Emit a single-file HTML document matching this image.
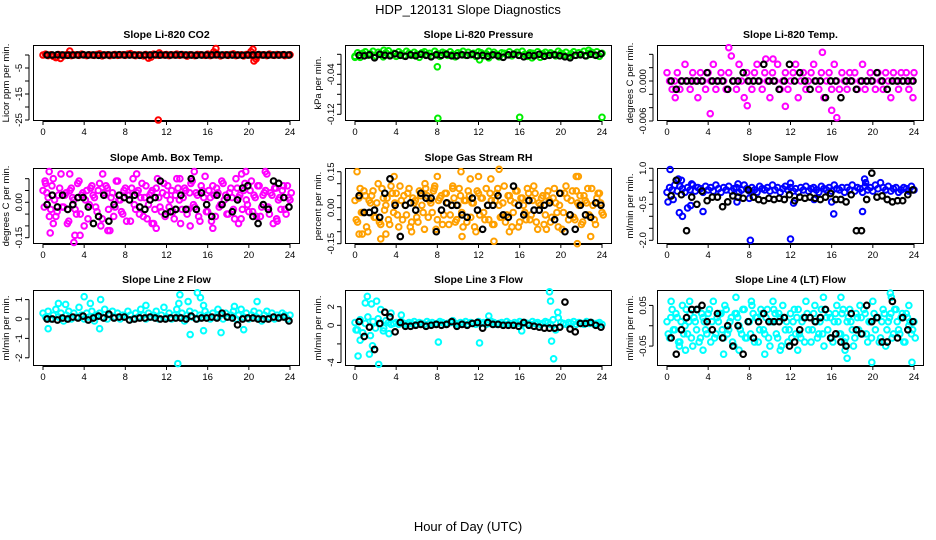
<!DOCTYPE html>
<html><head><meta charset="utf-8"><style>
html,body{margin:0;padding:0;background:#fff;}
svg{display:block;font-family:"Liberation Sans",sans-serif;}
</style></head><body>
<svg id="chart" width="936" height="540" viewBox="0 0 936 540" xmlns="http://www.w3.org/2000/svg">
<rect x="0" y="0" width="936" height="540" fill="#fff"/>
<text x="468" y="14" font-size="13" text-anchor="middle">HDP_120131  Slope Diagnostics</text>
<text x="468" y="531" font-size="13" text-anchor="middle">Hour of Day (UTC)</text>
</svg>
<script>
const xTicks = [0,4,8,12,16,20,24];

const co2Colored = [0,.3,-.2,.1,-.5,-1,.2,0,-.3,.1,.2,-.2,0,.1,-.1,.3,0,-.2,.1,0,-.1,.2,.4,-.3,0,.1,-.2,0,.2,-.1,0,.1,-.1,.3,.5,0,-.2,.1,0,-.3,.2,-1.2,-.8,.3,0,-.1,.1,0,.2,-.2,.1,0,.3,-.1,.2,0,-.4,.1,0,-.2,.2,.1,0,-.1,.3,-.2,.1,0,.2,-.3,0,.1,-.1,.2,.4,-.2,0,.1,-.3,.2,0,-.1,.1,-.6,.2,0,.1,-.2,.3,0,-.1,.2,0,.1,-.2,0,.1];
const co2Outliers = [[2.6,1.5],[1.7,-1.3],[1.3,-0.9],[11.2,-25],[16.6,1.2],[16.8,2.5],[20.2,1.3],[20.4,2.2],[20.5,-2.3],[20.7,-1.5],[11.3,0.8]];
const co2Black = [0,0,.1,0,-.1,0,0,.1,0,0,-.1,0,0,0,.1,0,0,0,-.1,0,0,.1,0,0,0,0,.1,0,0,-.1,0,0,0,.1,0,0,0,0,-.1,0,0,.1,0,0,0,0,.1,0];

const presColored = [-.004,.003,-.006,.002,.005,-.002,.001,.006,-.003,.004,.000,-.005,.003,.007,-.001,.002,-.004,.005,.001,-.003,.006,.002,-.002,.004,.000,-.006,.003,.005,-.001,.002,-.003,.006,.001,-.004,.004,.002,-.002,.005,.000,-.005,.003,.001,.006,-.002,.004,-.001,.002,-.004,.005,.003,-.003,.001,.006,-.002,.004,.000,-.005,.003,.002,-.001,.005,-.003,.001,.004,-.002,.006,.000,-.004,.003,.002,-.001,.005,-.006,.001,.004,-.002,.003,.000,-.003,.006,.002,-.001,.004,-.004,.001,.005,-.002,.003,.000,.006,-.003,.002,.004,-.001,.005,-.004,.002];
const presOutliers = [[8.0,-0.025],[8.05,-0.128],[16.0,-0.126],[24,-0.126],[12.1,-0.011],[2.8,0.008],[0,-0.006],[22.7,0.008],[13,-0.007],[17.2,-0.007]];
const presBlack = [-.002,-.003,-.001,-.007,.000,-.002,-.003,.001,-.002,-.004,-.001,-.003,.000,-.002,-.005,-.001,-.002,.000,-.003,-.003,-.001,-.002,.000,-.003,-.002,-.004,-.001,-.003,-.006,-.001,.000,-.002,-.005,-.002,-.003,.000,-.004,-.002,-.001,-.003,-.005,-.007,-.002,-.001,-.003,.000,-.002,.001];

const tempColored = [.00125,0,-.00125,0,.00125,-.00125,0,.0025,0,-.00125,.00125,0,-.0025,.00125,0,-.00125,.00125,0,.0025,-.00125,0,.00125,0,-.00125,.00125,.00375,0,-.00125,.0025,0,-.0025,.00125,0,-.00125,.00125,.0025,0,-.00125,.00125,0,-.0025,.00125,0,.0025,-.00125,0,.00125,-.00125,0,.00125,.0025,-.0025,0,.00125,-.00125,0,.00125,.0025,0,-.00125,.00125,-.0025,0,.00125,-.00125,.0025,0,-.00125,.00125,0,-.00125,.00125,0,.00125,-.00125,0,.0025,-.00125,0,.00125,0,-.00125,.00125,0,-.00125,.00125,0,-.0025,.00125,0,-.00125,.00125,0,.00125,-.00125,0,.00125];
const tempOutliers = [[6,0.005],[15.1,0.0043],[4.2,-0.0049],[16.5,-0.0055],[16,-0.0044],[7.8,-0.0037],[11.5,-0.0038],[0.8,-0.0025],[23.9,-0.0025],[9.6,0.0033],[10.3,0.0033]];
const tempBlack = [0,-.00125,0,0,0,0,0,.00125,0,0,0,-.00125,0,0,.00125,0,0,0,.0025,0,0,-.00125,0,.0025,0,.00125,0,-.00125,0,0,-.0025,0,0,-.0025,0,0,-.00125,0,0,0,.00125,0,-.00125,0,0,0,0,0];

const ambColored = [.05,.08,.02,-.03,.1,-.06,.03,.12,-.02,.04,-.08,.06,.01,-.05,.09,.03,-.1,.05,-.01,.07,.02,-.04,.08,-.07,.03,.06,-.12,.04,-.02,.09,.01,-.05,.06,.03,-.08,.1,-.03,.05,.02,-.06,.07,-.01,.04,-.09,.06,.02,-.04,.08,.03,-.02,.05,-.07,.1,.01,-.03,.06,-.05,.04,.09,-.02,.03,-.08,.05,.11,-.04,.02,.07,-.06,.04,-.01,.08,.03,-.05,.06,-.03,.1,.02,-.07,.05,.01,-.04,.09,.03,-.06,.07,-.02,.04,.12,-.05,.03,.06,-.08,.02,.05,-.03,.07,.01];
const ambColored2 = [-.02,.04,-.06,.07,.01,-.04,.06,-.02,.03,-.09,.05,.02,-.03,.08,-.05,.04,.01,-.07,.06,.03,-.02,.05,-.1,.04,.07,-.03,.02,-.06,.09,.01,-.04,.05,-.08,.03,.06,-.01,.04,-.05,.08,.02,-.07,.03,.05,-.03,.1,-.02,.04,-.06,.07,.01,-.04,.03,.06,-.09,.02,.05,-.03,.08,-.01,.04,-.06,.07,.02,-.04,.05,-.08,.03,.06,-.02,.09,.01,-.05,.04,.02,-.07,.06,.03,-.03,.08,-.01,.05,-.04,.02,.07,-.06,.03,.05,-.02,.04,-.09,.06,.01,-.03,.07,-.05,.02,.04];
const ambOutliers = [[0.6,0.13],[0.2,0.09],[0.7,-0.13],[1.0,-0.09],[2.6,0.12],[3.0,-0.17],[3.1,-0.14],[3.6,-0.14],[5.8,0.12],[6.3,-0.12],[9.1,0.12],[10.6,-0.09],[11.0,-0.11],[13.3,0.1],[14.7,0.13],[14.3,-0.1],[16.5,-0.11],[19.0,-0.09],[19.3,0.12],[19.7,0.13],[21.6,0.13],[22.7,-0.07]];
const ambBlack = [-.01,.03,-.02,.03,-.03,-.01,.02,.02,-.02,-.09,-.06,.03,-.08,-.01,.03,.02,.01,.03,-.02,-.03,.01,.02,.09,-.05,-.04,-.03,.03,-.03,.1,-.03,.04,-.01,-.06,.03,-.01,.02,-.04,.01,.06,.07,-.06,-.09,-.01,-.03,.09,.08,.02,-.02];

const rhColored = [.03,-.06,.08,-.02,.05,-.1,.02,.07,-.04,.1,-.07,.04,.01,-.05,.09,-.02,.06,-.08,.03,.05,-.03,.08,-.06,.02,-.04,.07,.01,-.09,.05,.03,-.02,.09,-.05,.04,-.07,.06,.02,-.03,.08,-.06,.01,.05,-.08,.03,.07,-.04,.02,-.1,.06,.04,-.02,.08,-.05,.03,-.07,.06,.01,-.04,.09,-.03,.05,-.08,.02,.07,-.06,.04,-.02,.08,-.05,.03,.06,-.09,.01,.05,-.03,.07,-.06,.04,.02,-.08,.06,-.02,.09,-.05,.03,-.04,.07,.01,-.07,.05,.02,-.03,.08,-.05,.04,.06,-.02];
const rhColored2 = [-.05,.04,-.02,.07,-.08,.03,.05,-.04,.02,-.06,.08,-.01,.04,-.07,.06,.02,-.03,.09,-.05,.01,.06,-.08,.04,.03,-.06,.05,-.02,.08,-.04,.02,.07,-.09,.03,.05,-.03,.06,-.07,.01,.04,-.05,.08,-.02,.03,-.06,.05,.02,-.08,.07,-.03,.04,-.05,.01,.06,-.07,.03,.08,-.04,.02,-.06,.05,.03,-.02,.07,-.08,.04,.01,-.05,.06,-.03,.09,-.06,.02,.04,-.07,.05,.03,-.04,.08,-.02,.01,-.09,.06,.04,-.03,.07,-.05,.02,.05,-.06,.03,.08,-.04,.01,-.07,.06,.02,-.03];
const rhOutliers = [[0.2,0.15],[0.4,-0.11],[0.7,-0.11],[2.5,-0.13],[3.0,-0.11],[3.8,0.13],[5.5,-0.1],[7.7,0.08],[8.0,0.13],[10.3,0.15],[10.4,-0.12],[11.2,0.12],[12.0,0.13],[13.2,0.12],[13.5,-0.14],[14.0,0.16],[15.0,-0.1],[18.6,-0.09],[21.5,0.13],[21.7,0.13],[21.6,-0.15],[22.9,-0.12],[9.5,0.09],[6.8,0.1]];
const rhBlack = [.05,-.02,-.02,-.01,-.04,.06,.12,.01,-.12,.01,.02,-.01,.06,.04,.04,-.1,-.01,.02,.01,.01,-.03,-.04,.04,-.01,-.09,.01,.01,.05,-.03,-.04,.09,.01,-.03,.03,-.01,-.01,.01,.02,-.05,.06,-.1,-.03,-.09,.01,-.03,-.04,.02,.01];

const flowColored = [.0,.2,.1,.3,.05,.25,.15,0,.2,.1,.3,.05,.2,.15,0,.25,.1,.2,.05,.3,.15,0,.2,.1,.25,.05,.15,.2,0,.1,.3,.15,.05,.2,.1,0,.25,.15,.1,.2,.05,.3,.1,.2,0,.15,.25,.1,.2,.05,.15,0,.2,.1,.25,.05,.15,.2,.1,0,.25,.15,.1,.2,.05,.3,.15,.1,.2,0,.2,.1,.3,.05,.2,.15,0,.25,.1,.2,.05,.3,.15,.4,.2,.1,.25,.05,.15,.2,0,.1,.2,.15,.05,.25,.1];
const flowOutliers = [[0.3,0.95],[0.1,-0.4],[0.6,-0.3],[1.1,0.55],[1.4,0.5],[8.1,-2.0],[12,-1.95],[2.0,-0.65],[2.3,-0.55],[1.2,-0.85],[1.5,-1.0],[16.2,-0.9],[19.2,0.55],[19.0,-0.8],[19.3,0.4],[3.5,-0.8],[6.9,0.35],[2.4,0.35],[12,0.38],[6.8,-0.4],[12.3,-0.45],[16,-0.4],[8,-0.25],[14.3,-0.3]];
const flowBlack = [-.15,.5,-.1,-1.6,-.2,-.5,.05,-.35,-.2,-.2,-.6,-.4,-.15,-.2,-.25,.1,-.2,-.3,-.35,-.25,-.3,-.25,-.3,-.1,-.35,-.2,-.25,-.2,-.25,-.3,-.2,-.05,-.3,-.3,-.4,-.1,-1.6,-1.6,-.3,.8,-.2,-.15,-.3,-.4,-.35,-.35,-.1,.1];

const l2Colored = [.3,.1,.4,0,.2,.5,.1,.3,-.1,.2,.4,0,.3,.1,.6,.2,0,.3,.1,.4,-.1,.2,.3,.1,.5,0,.2,.4,.1,.3,0,.2,.1,.4,.2,0,.3,.1,.5,.2,0,.3,.1,.2,.4,0,.2,.6,.1,.3,0,.2,.5,.1,.3,-.1,.2,.4,.1,.3,0,.2,.1,.4,.2,0,.3,.1,.5,.2,0,.3,.1,.2,.4,0,.2,.5,.1,.3,0,.2,.4,.1,.3,-.1,.2,.4,.1,.3,0,.2,.1,.3,.2,0,.2];
const l2Outliers = [[4,1.15],[13.3,1.25],[15,1.35],[15.3,1.1],[13.1,-2.3],[14.3,-0.8],[15.6,-0.6],[17.3,-0.7],[19.5,-0.55],[5.5,-0.5],[0.5,-0.5],[4.6,0.8],[5.6,1.0],[20.8,0.9],[14.1,0.9],[1.5,0.8],[2.2,0.75],[15.6,0.7],[13.2,0.8],[18.6,0.65],[10.0,0.7]];
const l2Black = [0,0,-.05,.05,0,.1,.05,.15,-.05,.05,.15,.05,.25,.05,.1,.1,-.05,0,.05,.05,.1,.05,0,0,.05,.05,.05,0,.15,0,.05,.05,.1,.05,.3,.1,.05,-.3,0,.05,.05,0,0,0,.1,.05,.1,-.1];

const l3Colored = [.3,-.5,.6,-.8,.2,.9,-1.1,.4,-.3,.7,.2,-.6,.5,.3,.1,.2,.3,.1,.4,.2,.1,.3,.2,.4,.1,.3,.2,.1,.4,.2,.3,.1,.2,.4,.3,.1,.2,.3,.5,.2,.1,.3,.2,.4,.1,.3,.2,.1,.4,.2,.3,.1,.2,.4,.3,.1,.2,.3,.1,.4,.2,.1,.3,.2,.4,.1,.3,.2,.1,.4,.2,.3,.1,.2,.4,.3,.1,.6,-.5,.8,.3,.2,.1,.3,.2,.4,.1,.3,.2,.1,.4,.2,.3,.1,.2,.3,.1];
const l3Outliers = [[0.3,-3.3],[0.5,-1.6],[1.0,2.4],[1.2,3.1],[1.4,-3.1],[1.6,2.3],[1.7,-2.2],[2.1,2.6],[2.3,-4.2],[2.5,1.7],[3.5,1.3],[4.5,1.1],[8.1,-1.8],[12.1,-1.9],[13.0,1.0],[16.2,-0.6],[18.9,3.6],[19.0,2.6],[19.1,-1.7],[19.3,-3.6],[19.7,1.4],[0.1,-0.5],[3.3,-0.9],[2.8,-0.3]];
const l3Black = [.4,-1.2,-.2,-2.6,.2,1.4,.9,-.7,.3,-.1,-.1,0,.1,-.1,0,.1,0,.1,.4,-.1,.1,0,.2,.3,-.3,.3,.1,.1,0,0,0,-.1,.3,0,-.1,-.2,-.3,-.3,-.3,-.2,2.5,-.4,-.7,.2,.2,.3,0,-.2];

const l4Colored = [.01,-.03,.04,-.01,.02,-.04,.05,0,-.02,.03,-.05,.01,.04,-.03,.02,-.01,.03,-.04,.06,-.02,.01,.03,-.03,.04,-.01,.02,-.05,.03,0,-.02,.04,-.03,.01,.05,-.04,.02,-.01,.03,-.02,.04,-.05,.01,.03,-.03,.02,.05,-.01,-.04,.03,.01,-.02,.04,-.03,.02,.06,-.01,-.04,.03,.01,-.02,.04,-.05,.02,.03,-.03,.01,.05,-.02,.03,-.04,.01,.04,-.01,-.03,.02,.05,-.02,.03,-.04,.01,.06,-.01,.02,-.03,.04,-.05,.01,.03,-.02,.04,-.01,.02,-.04,.03,0,-.02,.01];
const l4Colored2 = [-.02,.02,-.01,.03,-.04,.01,-.02,.04,.01,-.03,.02,-.01,-.04,.03,.01,-.02,.04,.01,-.03,.02,.03,-.01,.05,-.02,.01,-.04,.03,.02,-.01,.04,-.03,.01,-.02,.03,.02,-.04,.04,-.01,.02,-.03,.01,.04,-.02,.03,-.05,.02,.01,-.01,-.03,.04,.02,-.02,.01,-.04,.03,.02,-.01,.05,-.03,.01,-.02,.04,-.01,.02,-.04,.03,.01,-.02,.04,-.03,.02,.01,-.05,.03,-.01,.02,.04,-.02,.01,-.03,.03,.02,-.04,.01,.03,-.01,.02,-.03,.04,.01,-.02,.03,-.04,.02,.01,-.01,-.03];
const l4Outliers = [[0.4,0.06],[1.2,-0.05],[1.8,-0.06],[2.2,0.06],[3.5,-0.06],[5.5,-0.07],[6.7,0.07],[7.0,-0.06],[8.2,0.06],[9.5,-0.07],[10.3,0.06],[11.0,-0.06],[12.7,-0.06],[15.2,0.07],[16.9,0.07],[17.3,-0.06],[17.5,-0.08],[21.7,0.08],[21.8,0.07],[19.9,-0.09],[23.8,-0.09],[23.5,0.05]];
const l4Black = [-.03,-.07,-.01,.02,.04,.04,.05,.01,-.01,.03,-.03,0,-.05,0,-.07,.01,-.03,.01,.03,.01,.01,.01,.02,-.05,-.04,-.01,.02,.02,.01,.02,.04,-.03,-.02,-.04,-.05,.03,-.01,-.02,.05,.01,.02,-.04,-.04,.06,-.03,.02,-.01,.01];

const svg = document.getElementById('chart');
const NS = 'http://www.w3.org/2000/svg';
function mk(tag, attrs, parent) {
  const e = document.createElementNS(NS, tag);
  for (const k in attrs) e.setAttribute(k, attrs[k]);
  (parent || svg).appendChild(e);
  return e;
}

const colLeft = [33, 345, 657];
const rowTop = [45, 168, 290];
const boxW = 267, boxH = 76;

function panel(col, row, key, title, ylab, yTop, yBot, ticks, labels, color, colored, colored2, outliers, black) {
  const L = colLeft[col], T = rowTop[row];
  const xs = h => L + 10 + h * (boxW - 20) / 24;
  const ys = v => T + (yTop - v) / (yTop - yBot) * boxH;
  const g = mk('g', {});
  
  
  const t = mk('text', {x: L + boxW / 2, y: T - 7, 'font-size': 10.5, 'font-weight': 'bold', 'text-anchor': 'middle'}, g);
  t.textContent = title;
  
  
  const yl = mk('text', {x: 0, y: 0, 'font-size': 9.5, 'text-anchor': 'middle', transform: `translate(${L - 24},${T + boxH / 2}) rotate(-90)`}, g);
  yl.textContent = ylab;
  
  
  const xa = mk('g', {}, g);
  
  
  mk('line', {x1: xs(0), x2: xs(24), y1: T + boxH + 0.5, y2: T + boxH + 0.5, stroke: '#000'}, xa);
  xTicks.forEach(v => {
    mk('line', {x1: xs(v), x2: xs(v), y1: T + boxH, y2: T + boxH + 4, stroke: '#000'}, xa);
    const tl = mk('text', {x: xs(v), y: T + boxH + 14, 'font-size': 9.5, 'text-anchor': 'middle'}, xa);
    tl.textContent = v;
  });
  const ya = mk('g', {}, g);
  
  
  mk('line', {x1: L - 4, x2: L - 4, y1: ys(ticks[0]), y2: ys(ticks[ticks.length - 1]), stroke: '#000'}, ya);
  ticks.forEach((v, i) => {
    mk('line', {x1: L - 8, x2: L - 4, y1: ys(v), y2: ys(v), stroke: '#000'}, ya);
    if (labels[i] !== '') {
      const tl = mk('text', {x: 0, y: 0, 'font-size': 9.5, 'text-anchor': 'middle', transform: `translate(${L - 11},${ys(v)}) rotate(-90)`}, ya);
      tl.textContent = labels[i];
    }
  });
  mk('rect', {x: L + 0.5, y: T + 0.5, width: boxW - 1, height: boxH - 1, fill: 'none', stroke: '#000'}, g);
  const pg = mk('g', {}, g);
  
  
  const pt = (h, v, c, sw, name) => {
    const e = mk('circle', {cx: xs(h), cy: ys(v), r: 2.8, fill: 'none', stroke: c, 'stroke-width': sw}, pg);
    
    
  };
  [colored, colored2].forEach((arr, k) => {
    if (!arr) return;
    arr.forEach((v, i) => pt(k * 0.12 + i * 24 / (arr.length - 1), v, color, 2, key + '-point'));
  });
  outliers.forEach(p => pt(p[0], p[1], color, 2, key + '-outlier-point'));
  black.forEach((v, i) => pt(0.4 + i * 23.5 / (black.length - 1), v, '#000', 2.1, key + '-mean-point'));
}

panel(0, 0, 'co2', 'Slope Li-820 CO2', 'Licor ppm per min.', 3.85, -25.38, [0,-5,-10,-15,-20,-25], ['','-5','','-15','','-25'], '#ff0000', co2Colored, null, co2Outliers, co2Black);
panel(1, 0, 'pressure', 'Slope Li-820 Pressure', 'kPa per min.', 0.0186, -0.1334, [0,-0.02,-0.04,-0.06,-0.08,-0.10,-0.12], ['','','-0.04','','','','-0.12'], '#00ee00', presColored, null, presOutliers, presBlack);
panel(2, 0, 'temp', 'Slope Li-820 Temp.', 'degrees C per min.', 0.0054, -0.0060, [0.004,0.002,0,-0.002,-0.004,-0.006], ['','','0.000','','','-0.006'], '#ff00ff', tempColored, null, tempOutliers, tempBlack);
panel(0, 1, 'ambbox', 'Slope Amb. Box Temp.', 'degrees C per min.', 0.1453, -0.1767, [0.10,0.05,0,-0.05,-0.10,-0.15], ['','','0.00','','','-0.15'], '#ff00ff', ambColored, ambColored2, ambOutliers, ambBlack);
panel(1, 1, 'rh', 'Slope Gas Stream RH', 'percent per min.', 0.1654, -0.1513, [0.15,0.10,0.05,0,-0.05,-0.10,-0.15], ['0.15','','','0.00','','','-0.15'], '#ffa000', rhColored, rhColored2, rhOutliers, rhBlack);
panel(2, 1, 'sampleflow', 'Slope Sample Flow', 'ml/min per min.', 1.0125, -2.154, [1,0.5,0,-0.5,-1,-1.5,-2], ['1.0','','','-0.5','','','-2.0'], '#0000ff', flowColored, null, flowOutliers, flowBlack);
panel(0, 2, 'line2', 'Slope Line 2 Flow', 'ml/min per min.', 1.495, -2.423, [1,0,-1,-2], ['1','0','-1','-2'], '#00ffff', l2Colored, null, l2Outliers, l2Black);
panel(1, 2, 'line3', 'Slope Line 3 Flow', 'ml/min per min.', 3.796, -4.376, [2,0,-2,-4], ['2','0','','-4'], '#00ffff', l3Colored, null, l3Outliers, l3Black);
panel(2, 2, 'line4', 'Slope Line 4 (LT) Flow', 'ml/min per min.', 0.0879, -0.099, [0.05,0,-0.05], ['0.05','','-0.05'], '#00ffff', l4Colored, l4Colored2, l4Outliers, l4Black);
</script>
</body></html>
